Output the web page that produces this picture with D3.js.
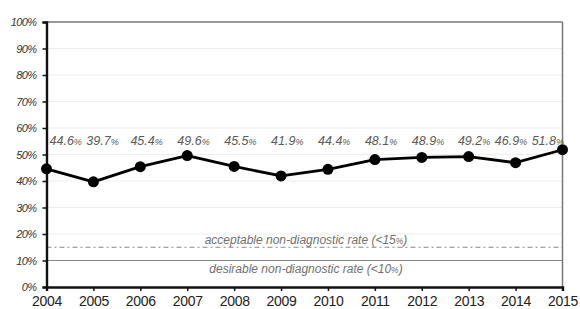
<!DOCTYPE html>
<html><head><meta charset="utf-8">
<script src="https://cdn.jsdelivr.net/npm/d3@7"></script>
<style>body{margin:0;background:#fff}</style>
</head><body>
<svg id="c" width="580" height="309"></svg>
<script>
const years = [2004,2005,2006,2007,2008,2009,2010,2011,2012,2013,2014,2015];
const rates = [44.6,39.7,45.4,49.6,45.5,41.9,44.4,48.1,48.9,49.2,46.9,51.8];
const yTicks = [0,10,20,30,40,50,60,70,80,90,100];
const thresholds = [
  {value:15, label:"acceptable non-diagnostic rate (<15", style:"dashdot"},
  {value:10, label:"desirable non-diagnostic rate (<10", style:"solid"}
];

const FONT = "Liberation Sans, Arial, sans-serif";
const svg = d3.select("#c");
const m = {l:46.5, r:17.5, t:22, b:22};
const W = 580, H = 309;
const x = d3.scaleLinear().domain([2004,2015]).range([m.l, W-m.r]);
const y = d3.scaleLinear().domain([0,100]).range([H-m.b, m.t]);

// gridlines
svg.append("g").selectAll("line").data(yTicks.filter(d=>d>0&&d<100)).join("line")
  .attr("x1",x(2004)).attr("x2",x(2015)).attr("y1",d=>y(d)).attr("y2",d=>y(d))
  .attr("stroke","#eeeeee").attr("stroke-width",1);

// frame top & right
svg.append("line").attr("x1",x(2004)).attr("x2",x(2015)).attr("y1",y(100)).attr("y2",y(100))
  .attr("stroke","#777").attr("stroke-width",1.5);
svg.append("line").attr("x1",x(2015)).attr("x2",x(2015)).attr("y1",y(100)).attr("y2",y(0))
  .attr("stroke","#777").attr("stroke-width",1.5);

// thresholds
thresholds.forEach(t=>{
  svg.append("line").attr("x1",x(2004)).attr("x2",x(2015)).attr("y1",y(t.value)).attr("y2",y(t.value))
    .attr("stroke", "#888").attr("stroke-width",1)
    .attr("stroke-dasharray", t.style==="solid" ? null : "5,3,2,3");
});
function thrText(t, yy){
  const tt = svg.append("text").attr("x",306).attr("y",yy).attr("text-anchor","middle")
    .attr("font-family",FONT).attr("font-style","italic")
    .attr("font-size",12).attr("fill","#707070");
  tt.append("tspan").text(t.label);
  tt.append("tspan").attr("font-size",8.5).text("%");
  tt.append("tspan").text(")");
}
thrText(thresholds[0], y(15)-3);
thrText(thresholds[1], y(10)+12.5);

// axes
const yAxis = d3.axisLeft(y).tickValues(yTicks).tickFormat(d=>d+"%").tickSize(4).tickPadding(6);
const gy = svg.append("g").attr("transform",`translate(${m.l},0)`).call(yAxis);
gy.select(".domain").attr("stroke","#111").attr("stroke-width",2.4);
gy.selectAll(".tick line").attr("stroke","#111").attr("stroke-width",1.5);
gy.selectAll("text").attr("font-family",FONT).attr("font-style","italic")
  .attr("font-size",11).attr("fill","#333").attr("letter-spacing","-0.6");

const xAxis = d3.axisBottom(x).tickValues(years).tickFormat(d3.format("d")).tickSize(4).tickPadding(5);
const gx = svg.append("g").attr("transform",`translate(0,${y(0)})`).call(xAxis);
gx.select(".domain").attr("stroke","#111").attr("stroke-width",2.4);
gx.selectAll(".tick line").attr("stroke","#111").attr("stroke-width",1.5);
gx.selectAll("text").attr("font-family",FONT)
  .attr("font-size",14).attr("fill","#222").attr("letter-spacing","-0.3");

// line
const line = d3.line().x((d,i)=>x(years[i])).y(d=>y(d));
svg.append("path").datum(rates).attr("d",line).attr("fill","none")
  .attr("stroke","#000").attr("stroke-width",2.8).attr("stroke-linejoin","round");
svg.append("g").selectAll("circle").data(rates).join("circle")
  .attr("cx",(d,i)=>x(years[i])).attr("cy",d=>y(d)).attr("r",5.5).attr("fill","#000");

// value labels with simple collision avoidance
const lab = svg.append("g").selectAll("text").data(rates).join("text")
  .attr("y",y(53.6))
  .attr("text-anchor","start")
  .attr("font-family",FONT).attr("font-style","italic")
  .attr("font-size",12.5).attr("fill","#5a5a5a");
lab.append("tspan").text(d=>d.toFixed(1));
lab.append("tspan").attr("font-size",9).attr("letter-spacing","-0.5").text("%");
const widths = lab.nodes().map(n=>n.getComputedTextLength());
const gap = 5;
let lefts = rates.map((d,i)=>x(years[i]) - widths[i]/2 + 6);
const minL = m.l + 3, maxR = x(2015) + 1;
for (let it=0; it<50; it++){
  lefts[0] = Math.max(lefts[0], minL);
  for (let i=1;i<lefts.length;i++) lefts[i] = Math.max(lefts[i], lefts[i-1]+widths[i-1]+gap);
  const n = lefts.length-1;
  lefts[n] = Math.min(lefts[n], maxR - widths[n]);
  for (let i=n-1;i>=0;i--) lefts[i] = Math.min(lefts[i], lefts[i+1]-widths[i]-gap);
}
lab.attr("x",(d,i)=>lefts[i]);
</script>
</body></html>
